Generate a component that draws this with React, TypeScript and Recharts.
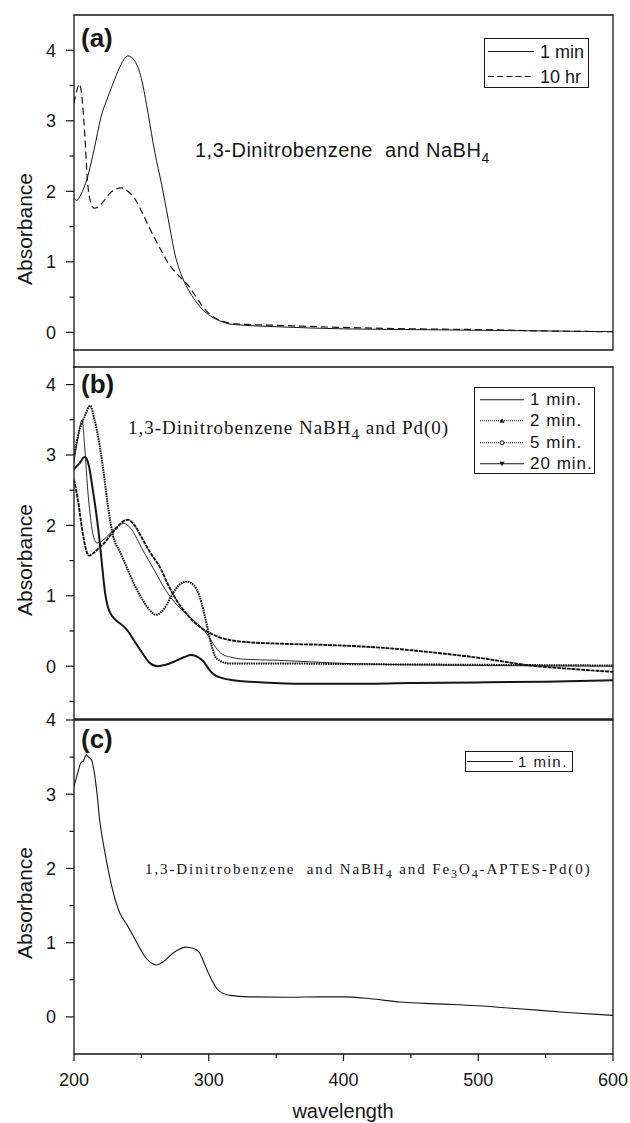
import { LineChart, Line, XAxis, YAxis, ReferenceArea, Legend } from 'recharts';

const SANS = '"Liberation Sans", Arial, Helvetica, sans-serif';
const SERIF = '"Liberation Serif", "Times New Roman", Times, serif';
const INK = '#161616';

// axes
const wlDomain: [number, number] = [200, 600];
const wlTicks = [200, 250, 300, 350, 400, 450, 500, 550, 600];
const absTicksA = [0, 0.5, 1, 1.5, 2, 2.5, 3, 3.5, 4];
const absTicksB = [-0.5, 0, 0.5, 1, 1.5, 2, 2.5, 3, 3.5, 4];
const absTicksC = [0, 0.5, 1, 1.5, 2, 2.5, 3, 3.5, 4];

// (a) 1,3-dinitrobenzene + NaBH4
const aWl1min = [200, 202, 205, 210, 215, 220, 225, 230, 235, 240, 245, 250, 255, 260, 265, 270, 275, 280, 285, 290, 295, 300, 305, 310, 315, 320, 350, 400, 450, 500, 550, 600];
const aAbs1min = [1.9, 1.87, 1.95, 2.2, 2.6, 3.05, 3.33, 3.58, 3.8, 3.92, 3.85, 3.6, 3.1, 2.55, 2.1, 1.6, 1.1, 0.8, 0.6, 0.45, 0.33, 0.25, 0.19, 0.15, 0.12, 0.11, 0.08, 0.05, 0.04, 0.03, 0.02, 0.01];
const aWl10hr = [200, 202, 204, 206, 208, 210, 212, 215, 218, 222, 226, 230, 235, 240, 245, 250, 255, 260, 265, 270, 275, 280, 285, 290, 295, 300, 305, 310, 315, 320, 350, 400, 450, 500, 550, 600];
const aAbs10hr = [3.25, 3.42, 3.52, 3.32, 2.8, 2.15, 1.87, 1.76, 1.78, 1.86, 1.96, 2.02, 2.05, 2.0, 1.9, 1.72, 1.52, 1.33, 1.15, 0.98, 0.86, 0.76, 0.66, 0.52, 0.38, 0.27, 0.2, 0.16, 0.13, 0.12, 0.1, 0.07, 0.05, 0.04, 0.02, 0.01];

// (b) + Pd(0)
const bWl1 = [200, 203, 206, 208, 210, 212, 214, 217, 220, 225, 230, 237, 242, 251, 260, 268, 276, 283, 290, 296, 300, 305, 310, 316, 325, 350, 400, 450, 500, 600];
const bAbs1 = [2.9, 3.25, 3.5, 3.1, 2.55, 2.15, 1.88, 1.75, 1.77, 1.85, 1.95, 2.03, 1.96, 1.65, 1.35, 1.08, 0.88, 0.75, 0.63, 0.52, 0.42, 0.27, 0.17, 0.13, 0.1, 0.085, 0.04, 0.02, 0.01, 0.0];
const bWl2 = [200, 204, 208, 212, 215, 219, 222, 225, 229, 234, 239, 245, 251, 256, 261, 267, 273, 279, 284, 289, 293, 296, 299, 302, 305, 308, 315, 350, 400, 500, 600];
const bAbs2 = [3.0, 3.35, 3.55, 3.7, 3.52, 3.14, 2.75, 2.3, 1.85, 1.63, 1.41, 1.15, 0.94, 0.8, 0.73, 0.82, 1.02, 1.17, 1.2, 1.15, 1.0, 0.8, 0.55, 0.3, 0.13, 0.08, 0.04, 0.04, 0.03, 0.02, 0.01];
const bWl5 = [200, 203, 206, 209, 211, 214, 218, 222, 227, 232, 236, 240, 245, 251, 257, 264, 270, 276, 282, 288, 294, 301, 308, 316, 330, 353, 390, 430, 464, 500, 539, 570, 600];
const bAbs5 = [2.65, 2.35, 1.95, 1.65, 1.57, 1.6, 1.67, 1.74, 1.86, 1.97, 2.05, 2.08, 2.0, 1.8, 1.6, 1.4, 1.15, 0.94, 0.78, 0.65, 0.55, 0.47, 0.41, 0.37, 0.34, 0.32, 0.3, 0.26, 0.2, 0.12, 0.01, -0.04, -0.08];
const bWl20 = [200, 204, 208, 211, 214, 217, 219, 221, 223, 225, 228, 232, 236, 240, 245, 251, 256, 262, 268, 276, 282, 287, 292, 296, 300, 304, 310, 318, 340, 370, 400, 450, 500, 550, 600];
const bAbs20 = [2.8, 2.88, 2.97, 2.85, 2.5, 2.1, 1.78, 1.4, 1.05, 0.85, 0.72, 0.64, 0.58, 0.5, 0.35, 0.18, 0.05, 0.0, 0.02, 0.08, 0.13, 0.16, 0.13, 0.07, -0.04, -0.12, -0.17, -0.2, -0.23, -0.25, -0.25, -0.24, -0.23, -0.22, -0.2];

// (c) + Fe3O4-APTES-Pd(0)
const cWl1 = [200, 203, 205, 207, 209, 211, 213, 215, 217, 219, 223, 228, 234, 239, 244, 249, 254, 258, 261, 266, 271, 277, 283, 289, 293, 296, 300, 303, 306, 310, 316, 330, 360, 382, 400, 420, 442, 470, 499, 530, 566, 600];
const cAbs1 = [3.1, 3.3, 3.42, 3.45, 3.53, 3.5, 3.46, 3.3, 3.02, 2.66, 2.21, 1.76, 1.4, 1.25, 1.09, 0.92, 0.78, 0.72, 0.7, 0.74, 0.82, 0.9, 0.94, 0.92, 0.87, 0.75, 0.58, 0.47, 0.38, 0.32, 0.29, 0.27, 0.265, 0.27, 0.27, 0.245, 0.2, 0.175, 0.15, 0.11, 0.06, 0.02];

const toPoints = (wl: number[], abs: number[]) => wl.map((w, i) => ({ wl: w, abs: abs[i] }));

type Marker = 'up' | 'circle' | 'down';
type Series = { name: string; points: { wl: number; abs: number }[]; width: number; dash?: string; legendDash?: string; marker?: Marker };
type LegendBox = { x: number; y: number; w: number; h: number; rowH: number; padTop: number; padLeft: number; lineLen: number; gap: number; fontSize: number; spacing: number };

const seriesA: Series[] = [
  { name: '1 min', points: toPoints(aWl1min, aAbs1min), width: 1 },
  { name: '10 hr', points: toPoints(aWl10hr, aAbs10hr), width: 1.2, dash: '7 4', legendDash: '6 3.2' },
];
const seriesB: Series[] = [
  { name: '1 min.', points: toPoints(bWl1, bAbs1), width: 0.9 },
  { name: '2 min.', points: toPoints(bWl2, bAbs2), width: 2, dash: '1.6 0.8', legendDash: '1 1', marker: 'up' },
  { name: '5 min.', points: toPoints(bWl5, bAbs5), width: 1.9, dash: '4 0.8', legendDash: '1 1', marker: 'circle' },
  { name: '20 min.', points: toPoints(bWl20, bAbs20), width: 2, marker: 'down' },
];
const seriesC: Series[] = [{ name: '1 min.', points: toPoints(cWl1, cAbs1), width: 1.1 }];

const YTick = (props: any) => {
  const { x, y, payload } = props;
  const v = payload.value as number;
  const major = Number.isInteger(v);
  return (
    <g>
      <line x1={x - (major ? 8 : 4.5)} x2={x} y1={y} y2={y} stroke={INK} strokeWidth={1.2} />
      {major && (
        <text x={x - 18} y={y} dy="0.36em" textAnchor="end" fontFamily={SANS} fontSize={18} fill={INK}>
          {v}
        </text>
      )}
    </g>
  );
};

const XTick = (props: any) => {
  const { x, y, payload } = props;
  const v = payload.value as number;
  const major = v % 100 === 0;
  return (
    <g>
      <line x1={x} x2={x} y1={y} y2={y + (major ? 7 : 4)} stroke={INK} strokeWidth={1.2} />
      {major && (
        <text x={x} y={y + 19} dy="0.71em" textAnchor="middle" fontFamily={SANS} fontSize={18} fill={INK}>
          {v}
        </text>
      )}
    </g>
  );
};

function LegendMarker({ kind, cx, cy }: { kind?: Marker; cx: number; cy: number }) {
  if (kind === 'up') return <polygon points={`${cx - 2.5},${cy + 2} ${cx + 2.5},${cy + 2} ${cx},${cy - 2.5}`} fill={INK} />;
  if (kind === 'down') return <polygon points={`${cx - 2.5},${cy - 2} ${cx + 2.5},${cy - 2} ${cx},${cy + 2.5}`} fill={INK} />;
  if (kind === 'circle') return <circle cx={cx} cy={cy} r={2} fill="#fff" stroke={INK} strokeWidth={1} />;
  return null;
}

function BoxLegend({ rows, box }: { rows: Series[]; box: LegendBox }) {
  return (
    <div
      style={{
        width: box.w,
        height: box.h,
        boxSizing: 'border-box',
        border: `1px solid ${INK}`,
        background: '#fff',
        paddingTop: box.padTop,
      }}
    >
      {rows.map((r) => (
        <div key={r.name} style={{ display: 'flex', alignItems: 'center', height: box.rowH }}>
          <svg width={box.lineLen} height={box.rowH} style={{ marginLeft: box.padLeft, flex: 'none' }}>
            <line
              x1={0}
              x2={box.lineLen}
              y1={box.rowH / 2}
              y2={box.rowH / 2}
              stroke={INK}
              strokeWidth={1}
              strokeDasharray={r.legendDash}
            />
            <LegendMarker kind={r.marker} cx={box.lineLen / 2} cy={box.rowH / 2} />
          </svg>
          <span
            style={{
              marginLeft: box.gap,
              fontFamily: SANS,
              fontSize: box.fontSize,
              letterSpacing: box.spacing,
              lineHeight: 1,
              color: INK,
              whiteSpace: 'nowrap',
            }}
          >
            {r.name}
          </span>
        </div>
      ))}
    </div>
  );
}

type PanelProps = {
  top: number;
  height: number;
  plotTop: number;
  plotBottom: number;
  domain: [number, number];
  ticks: number[];
  series: Series[];
  showX: boolean;
  legend: LegendBox;
};

function Panel({ top, height, plotTop, plotBottom, domain, ticks, series, showX, legend }: PanelProps) {
  // axes get 1px of room (an axis of size 0 is not drawn), margins make up the rest
  return (
    <div style={{ position: 'absolute', left: 0, top }}>
      <LineChart
        width={630}
        height={height}
        margin={{ top: plotTop - top, right: 17, bottom: top + height - plotBottom - (showX ? 1 : 0), left: 73 }}
      >
        <XAxis
          dataKey="wl"
          type="number"
          domain={wlDomain}
          ticks={wlTicks}
          interval={0}
          allowDataOverflow
          hide={!showX}
          height={1}
          tickSize={0}
          tickMargin={0}
          axisLine={false}
          tickLine={false}
          tick={XTick}
        />
        <YAxis
          type="number"
          domain={domain}
          ticks={ticks}
          interval={0}
          allowDataOverflow
          width={1}
          tickSize={0}
          tickMargin={0}
          axisLine={false}
          tickLine={false}
          tick={YTick}
        />
        <ReferenceArea
          x1={wlDomain[0]}
          x2={wlDomain[1]}
          y1={domain[0]}
          y2={domain[1]}
          fill="none"
          fillOpacity={0}
          stroke={INK}
          strokeWidth={1.3}
        />
        <Legend
          layout="horizontal"
          verticalAlign="middle"
          align="center"
          wrapperStyle={{ left: legend.x, top: legend.y - top, width: 'auto', height: 'auto' }}
          content={() => <BoxLegend rows={series} box={legend} />}
        />
        {series.map((s) => (
          <Line
            key={s.name}
            data={s.points}
            dataKey="abs"
            name={s.name}
            type="monotone"
            stroke={INK}
            strokeWidth={s.width}
            strokeDasharray={s.dash}
            dot={false}
            activeDot={false}
            isAnimationActive={false}
          />
        ))}
      </LineChart>
    </div>
  );
}

const legendA: LegendBox = { x: 484, y: 38, w: 105, h: 50, rowH: 25, padTop: 0, padLeft: 3, lineLen: 46, gap: 6, fontSize: 18, spacing: 0 };
const legendB: LegendBox = { x: 474, y: 387, w: 121, h: 87, rowH: 21.5, padTop: 0.5, padLeft: 5, lineLen: 44, gap: 6, fontSize: 17, spacing: 1 };
const legendC: LegendBox = { x: 465, y: 751, w: 108, h: 21, rowH: 19, padTop: 0, padLeft: 1, lineLen: 46, gap: 5, fontSize: 15, spacing: 1.5 };

export default function App() {
  const sans = { fontFamily: SANS, fill: INK };
  const serif = { fontFamily: SERIF, fill: INK };
  return (
    <div style={{ position: 'absolute', left: 0, top: 0, width: 630, height: 1123, background: '#fff', overflow: 'hidden' }}>
      <Panel top={0} height={360} plotTop={15} plotBottom={350} domain={[-0.25, 4.5]} ticks={absTicksA} series={seriesA} showX={false} legend={legendA} />
      <Panel top={358} height={364} plotTop={367} plotBottom={719} domain={[-0.75, 4.25]} ticks={absTicksB} series={seriesB} showX={false} legend={legendB} />
      <Panel top={700} height={423} plotTop={720} plotBottom={1054} domain={[-0.5, 4]} ticks={absTicksC} series={seriesC} showX={true} legend={legendC} />

      <svg width={630} height={1123} style={{ position: 'absolute', left: 0, top: 0, pointerEvents: 'none' }}>
        <line x1={74} x2={74} y1={349} y2={368} stroke={INK} strokeWidth={1.3} />

        <text x={81} y={47} fontSize={26} fontWeight="bold" {...sans}>(a)</text>
        <text x={81} y={393} fontSize={26} fontWeight="bold" {...sans}>(b)</text>
        <text x={81} y={748} fontSize={26} fontWeight="bold" {...sans}>(c)</text>

        <text x={32} y={229} transform="rotate(-90 32 229)" textAnchor="middle" fontSize={21} {...sans}>Absorbance</text>
        <text x={32} y={560} transform="rotate(-90 32 560)" textAnchor="middle" fontSize={21} {...sans}>Absorbance</text>
        <text x={32} y={903} transform="rotate(-90 32 903)" textAnchor="middle" fontSize={21} {...sans}>Absorbance</text>
        <text x={343} y={1118} textAnchor="middle" fontSize={20} {...sans}>wavelength</text>

        <text x={195} y={157} fontSize={20} letterSpacing={0.5} style={{ whiteSpace: 'pre' }} {...sans}>
          {'1,3-Dinitrobenzene  and NaBH'}
          <tspan fontSize={14} dy={6}>4</tspan>
        </text>
        <text x={128} y={434} fontSize={19} letterSpacing={1} style={{ whiteSpace: 'pre' }} {...serif}>
          {'1,3-Dinitrobenzene NaBH'}
          <tspan fontSize={15} dy={5}>4</tspan>
          <tspan dy={-5}>{' and Pd(0)'}</tspan>
        </text>
        <text x={145} y={874} fontSize={15} letterSpacing={1.9} style={{ whiteSpace: 'pre' }} {...serif}>
          {'1,3-Dinitrobenzene  and NaBH'}
          <tspan fontSize={12} dy={4}>4</tspan>
          <tspan dy={-4}>{' and Fe'}</tspan>
          <tspan fontSize={12} dy={4}>3</tspan>
          <tspan dy={-4}>O</tspan>
          <tspan fontSize={12} dy={4}>4</tspan>
          <tspan dy={-4}>-APTES-Pd(0)</tspan>
        </text>
      </svg>
    </div>
  );
}
